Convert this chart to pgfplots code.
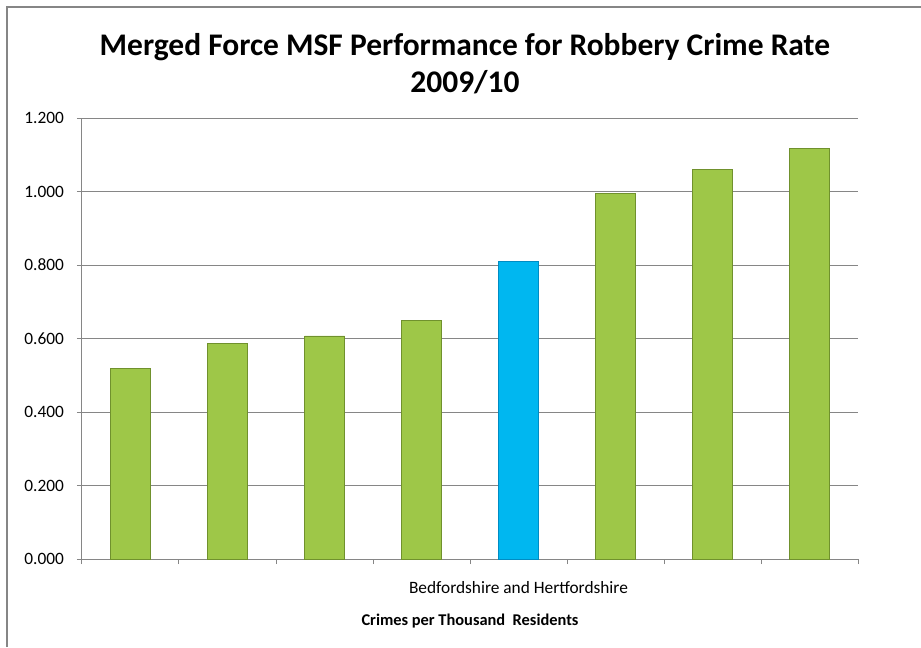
\documentclass[border=0pt]{standalone}
\usepackage{fontspec}
\setmainfont{Carlito}
\usepackage{pgfplots}
\pgfplotsset{compat=1.18}
\definecolor{barg}{RGB}{158,199,72}
\definecolor{bargd}{RGB}{112,145,45}
\definecolor{barb}{RGB}{0,183,240}
\definecolor{barbd}{RGB}{0,140,195}
\definecolor{gridc}{RGB}{134,134,134}
\begin{document}
\begin{tikzpicture}[x=0.75pt,y=0.75pt]
\path[use as bounding box] (0,0) rectangle (921,647);
\draw[gridc, line width=0.9pt] (7,0) -- (7,640) -- (921,640);
\node[font=\bfseries\fontsize{23.6}{27.75}\selectfont, align=center] at (465,583.5)
  {Merged Force MSF Performance for Robbery Crime Rate\\2009/10};
\begin{axis}[
  at={(61.5pt,66pt)}, anchor=south west,
  scale only axis, width=582pt, height=330.75pt,
  xmin=-0.5, xmax=7.5, ymin=0, ymax=1.2,
  axis lines*=left,
  axis line style={gridc, line width=0.75pt},
  ytick={0,0.2,0.4,0.6,0.8,1.0,1.2},
  xtick={-0.5,0.5,1.5,2.5,3.5,4.5,5.5,6.5,7.5},
  xticklabels={},
  extra x ticks={4},
  extra x tick labels={Bedfordshire and Hertfordshire},
  extra x tick style={major tick length=0pt, grid=none,
    tick label style={anchor=center, yshift=-21.75pt, font=\fontsize{13}{15}\selectfont}},
  tick align=outside,
  major tick length=3.75pt,
  tick style={gridc, line width=0.75pt},
  ymajorgrids,
  grid style={gridc, line width=0.75pt},
  yticklabel style={font=\fontsize{13}{15}\selectfont, xshift=-6.25pt,
    /pgf/number format/.cd, fixed, fixed zerofill, precision=3, assume math mode=true},
  xlabel={Crimes per Thousand\ \ Residents},
  xlabel style={font=\bfseries\fontsize{12.3}{14}\selectfont, at={(axis description cs:0.5,0)}, anchor=center, yshift=-46.5pt},
  ybar, bar width=30pt, bar shift=0pt,
  clip=false,
]
\addplot[fill=barg, draw=bargd, line width=0.6pt] coordinates {
  (0,0.519) (1,0.587) (2,0.607) (3,0.648) (5,0.995) (6,1.059) (7,1.116)};
\addplot[fill=barb, draw=barbd, line width=0.6pt] coordinates {(4,0.811)};
\end{axis}
\end{tikzpicture}
\end{document}
